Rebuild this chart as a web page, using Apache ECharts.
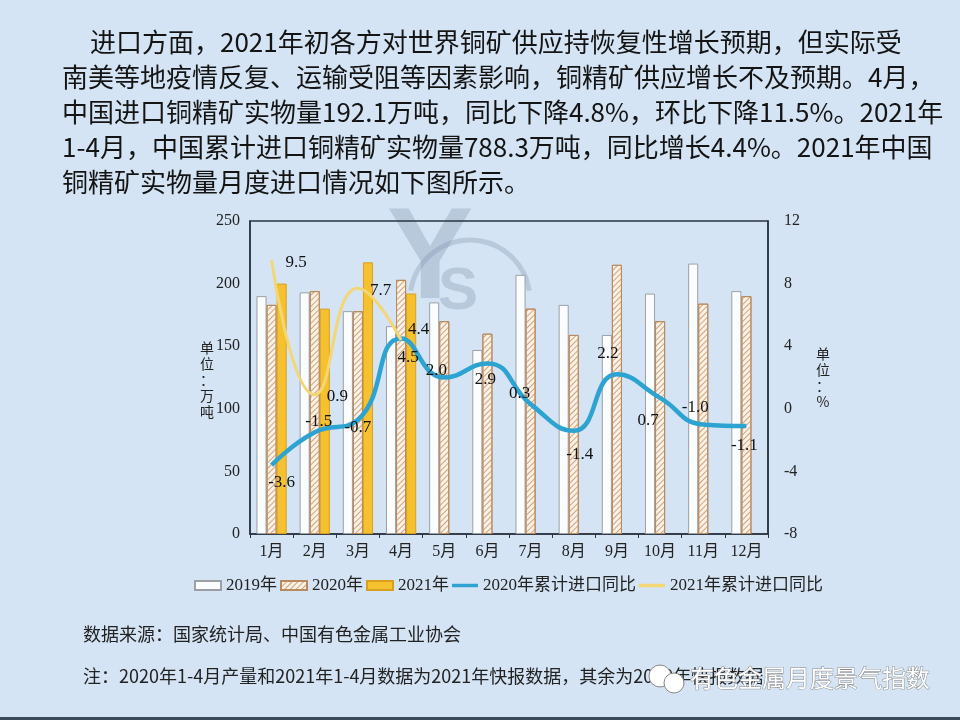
<!DOCTYPE html>
<html><head><meta charset="utf-8">
<script src="https://cdn.jsdelivr.net/npm/echarts@6/dist/echarts.min.js"></script>
<style>html,body{margin:0;padding:0;background:#D4E4F4}#c{width:960px;height:720px}</style>
</head><body><div id="c"></div>
<script>
// ---- data ----
const months = ['1月','2月','3月','4月','5月','6月','7月','8月','9月','10月','11月','12月'];
const imp2019 = [190, 193, 178, 166, 185, 147, 207, 183, 159, 192, 216, 194];
const imp2020 = [183, 194, 178, 203, 170, 160, 180, 159, 215, 170, 184, 190];
const imp2021 = [200, 180, 217, 192.1, null, null, null, null, null, null, null, null];
const cum2020 = [-3.6, -1.5, -0.7, 4.5, 2.0, 2.9, 0.3, -1.4, 2.2, 0.7, -1.0, -1.1];
const cum2021 = [9.5, 0.9, 7.7, 4.4];
const leftTicks = {min: 0, max: 250, interval: 50};
const rightTicks = {min: -8, max: 12, interval: 4};
const seriesNames = ['2019年','2020年','2021年','2020年累计进口同比','2021年累计进口同比'];
const paragraph = [
  '进口方面，2021年初各方对世界铜矿供应持恢复性增长预期，但实际受',
  '南美等地疫情反复、运输受阻等因素影响，铜精矿供应增长不及预期。4月，',
  '中国进口铜精矿实物量192.1万吨，同比下降4.8%，环比下降11.5%。2021年',
  '1-4月，中国累计进口铜精矿实物量788.3万吨，同比增长4.4%。2021年中国',
  '铜精矿实物量月度进口情况如下图所示。'
];
const sourceText = '数据来源：国家统计局、中国有色金属工业协会';
const noteText = '注：2020年1-4月产量和2021年1-4月数据为2021年快报数据，其余为2020年快报数据';
const watermarkText = '有色金属月度景气指数';

// ---- label placement (style only) ----
const pos2020 = [
  ['bottom',[10,4]],['top',[4,3]],['bottom',[0,-6]],['bottom',[7,6]],
  ['top',[-8,7]],['bottom',[-2,3]],['top',[-11,3]],['bottom',[6,10]],
  ['top',[-9,-7]],['bottom',[-12,9]],['top',[-8,-3]],['bottom',[-2,6]]
];
const pos2021 = [['right',[9,2]],['right',[7,2]],['right',[7,2]],['right',[2,-10]]];

const serif = '"Liberation Serif","Noto Sans CJK SC",serif';
const cjk = '"Noto Sans CJK SC","Liberation Sans",sans-serif';
const lblStyle = {show:true, fontSize:17, fontFamily:serif, color:'#111',
  formatter: p => Number(p.value).toFixed(1)};

const chart = echarts.init(document.getElementById('c'), null, {renderer:'canvas'});

const graphics = [];
// faint logo watermark
graphics.push({type:'text', x:430, y:262, z:-10, style:{text:'Y', font:'bold 130px "Liberation Sans",sans-serif', fill:'rgba(120,140,165,0.30)', align:'center', verticalAlign:'middle'}});
graphics.push({type:'arc', z:-10, shape:{cx:470, cy:300, r:60, startAngle:Math.PI*1.05, endAngle:Math.PI*1.95}, style:{stroke:'rgba(120,140,165,0.30)', lineWidth:5, fill:null}});
graphics.push({type:'text', x:458, y:292, z:-10, style:{text:'S', font:'bold 60px "Liberation Sans",sans-serif', fill:'rgba(120,140,165,0.30)', align:'center', verticalAlign:'middle'}});
paragraph.forEach((t, i) => {
  graphics.push({type:'text', x: i === 0 ? 90 : 62, y: 42 + i * 35,
    style:{text:t, font:'26px ' + cjk, fill:'#141414', verticalAlign:'middle'}});
});
graphics.push({type:'text', x:207, y:380, style:{text:'单\n位\n：\n万\n吨', font:'14px ' + cjk, fill:'#222', align:'center', verticalAlign:'middle', lineHeight:16}});
graphics.push({type:'text', x:823, y:378, style:{text:'单\n位\n：\n%', font:'14px ' + cjk, fill:'#222', align:'center', verticalAlign:'middle', lineHeight:16}});
graphics.push({type:'text', x:83, y:634, style:{text:sourceText, font:'18px ' + cjk, fill:'#222', verticalAlign:'middle'}});
graphics.push({type:'text', x:83, y:676, style:{text:noteText, font:'18px ' + cjk, fill:'#222', verticalAlign:'middle'}});
graphics.push({type:'circle', shape:{cx:660, cy:676, r:11}, style:{fill:'#fff', stroke:'#888', lineWidth:1}});
graphics.push({type:'circle', shape:{cx:674, cy:683, r:10}, style:{fill:'#fff', stroke:'#888', lineWidth:1}});
graphics.push({type:'text', x:690, y:678, style:{text:watermarkText, font:'24px ' + cjk, fill:'#ffffff', stroke:'#8a8a8a', lineWidth:1, verticalAlign:'middle'}});
graphics.push({type:'rect', shape:{x:0, y:717, width:960, height:3}, style:{fill:'#3a4a5a'}});

const lineIcon = 'path://M0,0 L30,0 L30,4 L0,4 Z';

const option = {
  backgroundColor: '#D4E4F4',
  animation: false,
  graphic: graphics,
  grid: {left:250, right:192, top:221, bottom:186, show:true, borderColor:'#2b3440', borderWidth:1.5},
  legend: {
    data: [
      {name:seriesNames[0], icon:'rect'},
      {name:seriesNames[1], icon:'rect'},
      {name:seriesNames[2], icon:'rect'},
      {name:seriesNames[3], icon:lineIcon},
      {name:seriesNames[4], icon:lineIcon}
    ],
    left: 189, top: 572, itemWidth: 26, itemHeight: 9, itemGap: 3,
    textStyle: {fontSize:17, fontFamily:serif, color:'#222'}
  },
  xAxis: {
    type:'category', data: months,
    axisLine:{lineStyle:{color:'#2b3440', width:1.5}},
    axisTick:{show:true, length:4, lineStyle:{color:'#2b3440'}},
    axisLabel:{fontSize:16, fontFamily:serif, color:'#222', margin:10}
  },
  yAxis: [
    {type:'value', min:leftTicks.min, max:leftTicks.max, interval:leftTicks.interval,
     splitLine:{show:false}, axisLine:{show:true, lineStyle:{color:'#2b3440', width:1.5}}, axisTick:{show:false},
     axisLabel:{fontSize:16, fontFamily:serif, color:'#222', margin:10}},
    {type:'value', min:rightTicks.min, max:rightTicks.max, interval:rightTicks.interval,
     splitLine:{show:false}, axisLine:{show:true, lineStyle:{color:'#2b3440', width:1.5}}, axisTick:{show:false},
     axisLabel:{fontSize:16, fontFamily:serif, color:'#222', margin:16}}
  ],
  series: [
    {name:seriesNames[0], type:'bar', data:imp2019, barGap:'0%', barCategoryGap:'30%',
     itemStyle:{color:'#FBFCFD', borderColor:'#9aa0a6', borderWidth:1}},
    {name:seriesNames[1], type:'bar', data:imp2020,
     itemStyle:{color:'#FAF2E8', borderColor:'#B98A5E', borderWidth:1,
       decal:{symbol:'rect', symbolSize:1, rotation:-Math.PI/4, dashArrayX:[1,0], dashArrayY:[1,2.2], color:'#D2A478'}}},
    {name:seriesNames[2], type:'bar', data:imp2021,
     itemStyle:{color:'#F6C12F', borderColor:'#D9A020', borderWidth:1}},
    {name:seriesNames[3], type:'line', yAxisIndex:1, smooth:true, symbol:'circle', symbolSize:0, showSymbol:true, z:5,
     lineStyle:{color:'#2CA3D0', width:4.5}, itemStyle:{color:'#2CA3D0'},
     data: cum2020.map((v,i) => ({value:v, label:Object.assign({}, lblStyle, {position:pos2020[i][0], offset:pos2020[i][1]})}))},
    {name:seriesNames[4], type:'line', yAxisIndex:1, smooth:true, symbol:'circle', symbolSize:0, showSymbol:true, z:6,
     lineStyle:{color:'#F3D776', width:3}, itemStyle:{color:'#F3D776'},
     data: cum2021.map((v,i) => ({value:v, label:Object.assign({}, lblStyle, {position:pos2021[i][0], offset:pos2021[i][1]})}))}
  ]
};
chart.setOption(option);
</script>
</body></html>
